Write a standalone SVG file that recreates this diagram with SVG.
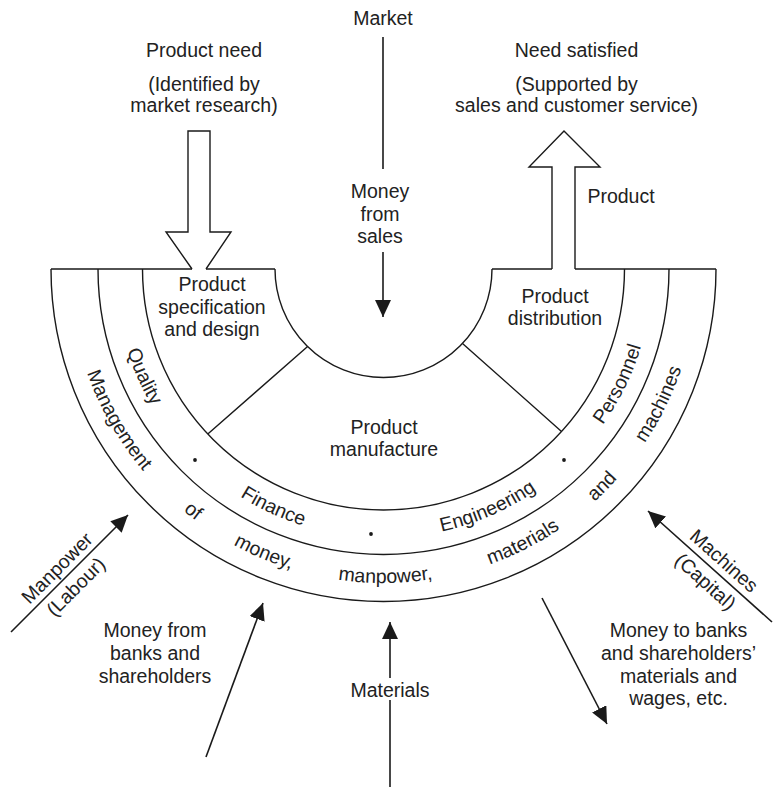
<svg xmlns="http://www.w3.org/2000/svg" width="776" height="787" viewBox="0 0 776 787">
<style>
text{font-family:"Liberation Sans",Arial,Helvetica,sans-serif;font-size:19.5px;fill:#222;}
.c{text-anchor:middle}
.s{fill:none;stroke:#1a1a1a;stroke-width:1.4}
.a{fill:none;stroke:#1a1a1a;stroke-width:1.6}
.h{fill:#fff;stroke:#1a1a1a;stroke-width:1.4}
.d{fill:#1a1a1a}
</style>
<defs>
<marker id="ah" viewBox="0 0 17 16" refX="17" refY="8" markerWidth="17" markerHeight="16" markerUnits="userSpaceOnUse" orient="auto"><path d="M0,0 L17,8 L0,16 z" fill="#1a1a1a"/></marker>
<path id="r1" d="M114.5,269 A269,269 0 0 0 652.5,269"/>
<path id="r2" d="M69.5,269 A314,314 0 0 0 697.5,269"/>
</defs>
<rect width="776" height="787" fill="#fff"/>

<g id="frame">
<path class="s" d="M51,269 H192 M206,269 H275 M492,269 H552 M575,269 H716"/>
<path class="s" d="M51,269 A332.5,332.5 0 0 0 716,269"/>
<path class="s" d="M98,269 A285.5,285.5 0 0 0 669,269"/>
<path class="s" d="M142.5,269 A241,241 0 0 0 624.5,269"/>
<path class="s" d="M275,269 A108.5,108.5 0 0 0 492,269"/>
<path class="s" d="M307.6,346.5 L207.8,434 M462.5,343.4 L561.5,431.5"/>
</g>

<g id="product-need-arrow">
<polyline class="h" points="192,269 166,232 188,232 188,131 210,131 210,232 231,232 206,269"/>
</g>
<g id="product-out-arrow">
<polyline class="h" points="552,269 552,167 529,167 564,131 600,167 575,167 575,269"/>
</g>

<g id="connectors">
<line class="a" x1="383" y1="37" x2="383" y2="169"/>
<line class="a" x1="383" y1="252" x2="383" y2="317" marker-end="url(#ah)"/>
<line class="a" x1="11" y1="632" x2="128" y2="515" marker-end="url(#ah)"/>
<line class="a" x1="206" y1="757" x2="263" y2="603" marker-end="url(#ah)"/>
<line class="a" x1="390" y1="787" x2="390" y2="700"/>
<line class="a" x1="390" y1="678" x2="390" y2="622" marker-end="url(#ah)"/>
<line class="a" x1="542" y1="598" x2="607" y2="724" marker-end="url(#ah)"/>
<line class="a" x1="772" y1="622" x2="648" y2="511" marker-end="url(#ah)"/>
</g>

<g id="market"><text class="c" x="383" y="25">Market</text></g>
<g id="money-from-sales">
<text class="c" x="380" y="198">Money</text>
<text class="c" x="380" y="221">from</text>
<text class="c" x="380" y="243">sales</text>
</g>
<g id="product-need">
<text class="c" x="204" y="57">Product need</text>
<text class="c" x="204" y="91">(Identified by</text>
<text class="c" x="204" y="112">market research)</text>
</g>
<g id="need-satisfied">
<text class="c" x="576.5" y="57">Need satisfied</text>
<text class="c" x="576.5" y="91">(Supported by</text>
<text class="c" x="576.5" y="112">sales and customer service)</text>
</g>
<g id="product-label"><text class="c" x="621" y="203">Product</text></g>

<g id="spec-design">
<text class="c" x="212" y="291">Product</text>
<text class="c" x="212" y="313.5">specification</text>
<text class="c" x="212" y="336">and design</text>
</g>
<g id="distribution">
<text class="c" x="555" y="303">Product</text>
<text class="c" x="555" y="325">distribution</text>
</g>
<g id="manufacture">
<text class="c" x="384" y="434">Product</text>
<text class="c" x="384" y="456">manufacture</text>
</g>

<g id="ring-functions">
<text class="c"><textPath href="#r1" startOffset="13.4%">Quality</textPath></text>
<text class="c"><textPath href="#r1" startOffset="36.2%">Finance</textPath></text>
<text class="c"><textPath href="#r1" startOffset="63.1%">Engineering</textPath></text>
<text class="c"><textPath href="#r1" startOffset="85.5%">Personnel</textPath></text>
<circle class="d" cx="195" cy="460" r="1.9"/>
<circle class="d" cx="371" cy="534" r="1.9"/>
<circle class="d" cx="564" cy="460" r="1.9"/>
</g>

<g id="ring-management">
<text class="c"><textPath href="#r2" startOffset="16.5%">Management</textPath></text>
<text class="c"><textPath href="#r2" startOffset="28.8%">of</textPath></text>
<text class="c"><textPath href="#r2" startOffset="37.3%">money,</textPath></text>
<text class="c"><textPath href="#r2" startOffset="50.2%">manpower,</textPath></text>
<text class="c"><textPath href="#r2" startOffset="65%">materials</textPath></text>
<text class="c"><textPath href="#r2" startOffset="75.1%">and</textPath></text>
<text class="c"><textPath href="#r2" startOffset="85.5%">machines</textPath></text>
</g>

<g id="manpower" transform="translate(66,577) rotate(-45)">
<text class="c" x="0" y="-6">Manpower</text>
<text class="c" x="0" y="20.5">(Labour)</text>
</g>
<g id="machines" transform="translate(715,571) rotate(41.8)">
<text class="c" x="0" y="-7">Machines</text>
<text class="c" x="0" y="21">(Capital)</text>
</g>
<g id="money-from-banks">
<text class="c" x="155" y="637">Money from</text>
<text class="c" x="155" y="660">banks and</text>
<text class="c" x="155" y="683">shareholders</text>
</g>
<g id="money-to-banks">
<text class="c" x="678.5" y="637">Money to banks</text>
<text class="c" x="678.5" y="660">and shareholders’</text>
<text class="c" x="678.5" y="682.5">materials and</text>
<text class="c" x="678.5" y="705">wages, etc.</text>
</g>
<g id="materials"><text class="c" x="390" y="697">Materials</text></g>
</svg>
